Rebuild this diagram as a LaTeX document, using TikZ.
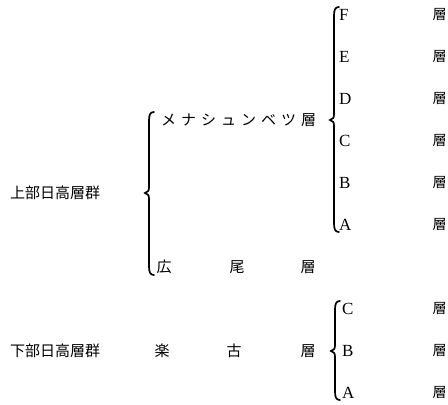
\documentclass[tikz,border=0pt]{standalone}
\usepackage{fontspec}
\newfontfamily\jp{Noto Sans CJK JP}
\newfontfamily\lat{Liberation Serif}
\newcommand\drawbrace[4]{\draw[bracestyle] ({#1+5},#2) .. controls ({#1+1},#2) and (#1,{#2+3}) .. (#1,{#2+9}) -- (#1,{#3-6}) .. controls (#1,{#3-2}) and ({#1-1},{#3-1}) .. ({#1-4},#3) .. controls ({#1-1},{#3+1}) and (#1,{#3+2}) .. (#1,{#3+6}) -- (#1,{#4-9}) .. controls (#1,{#4-3}) and ({#1+1},#4) .. ({#1+5},#4);}
\begin{document}
\begin{tikzpicture}[x=1pt,y=-1pt,
  jtext/.style={font=\jp\fontsize{15}{15}\selectfont, inner sep=0pt},
  ltr/.style={font=\lat\fontsize{17}{17}\selectfont, inner sep=0pt, anchor=west},
  bracestyle/.style={line width=1.7pt, line cap=round}]
\useasboundingbox (0,0) rectangle (448,405);
% left group names
\node[jtext, anchor=west] (upper) at (10,193) {上部日高層群};
\node[jtext, anchor=west] (lower) at (10,351) {下部日高層群};
% braces
\drawbrace{149}{112}{193}{275}
\drawbrace{334}{7}{120}{232}
\drawbrace{335}{301}{351}{400}
% middle column
\node[jtext, anchor=west] (mena) at (161,120) {メ\kern5ptナ\kern5ptシ\kern5ptュ\kern5ptン\kern5ptベ\kern5ptツ\kern5pt層};
\node[jtext] (hiro1) at (164,267) {広};
\node[jtext] (hiro2) at (237,267) {尾};
\node[jtext] (hiro3) at (308,267) {層};
\node[jtext] (raku1) at (162,351) {楽};
\node[jtext] (raku2) at (234,351) {古};
\node[jtext] (raku3) at (308,351) {層};
% upper letters
\node[ltr] (uF) at (339,15) {F};
\node[ltr] (uE) at (339,57) {E};
\node[ltr] (uD) at (339,99) {D};
\node[ltr] (uC) at (339,141) {C};
\node[ltr] (uB) at (339,183) {B};
\node[ltr] (uA) at (339,225) {A};
% lower letters
\node[ltr] (lC) at (342,309) {C};
\node[ltr] (lB) at (342,351) {B};
\node[ltr] (lA) at (342,393) {A};
% right column
\foreach \y/\n in {15/rF,57/rE,99/rD,141/rC,183/rB,225/rA,309/rlC,351/rlB,393/rlA}
  \node[jtext, font=\jp\fontsize{14}{14}\selectfont] (\n) at (439.5,\y) {層};
\end{tikzpicture}
\end{document}
